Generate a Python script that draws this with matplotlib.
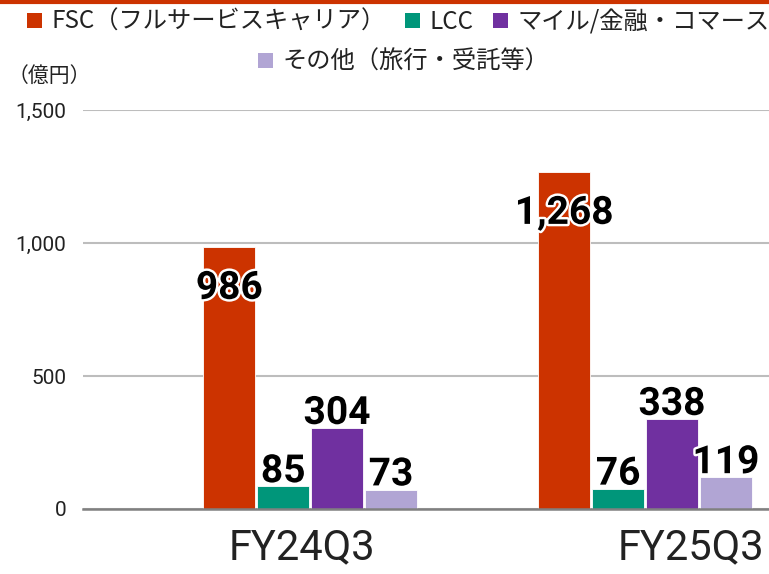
import numpy as np
import matplotlib.pyplot as plt
import matplotlib.patheffects as pe
from matplotlib.patches import Patch
from matplotlib.transforms import ScaledTranslation

plt.rcParams['font.family'] = ['Roboto', 'Noto Sans CJK JP', 'DejaVu Sans']

periods = ['FY24Q3', 'FY25Q3']
segments = ['FSC（フルサービスキャリア）', 'LCC', 'マイル/金融・コマース', 'その他（旅行・受託等）']
fsc = [986, 1268]
lcc = [85, 76]
mile = [304, 338]
other = [73, 119]
colors = ['#CC3300', '#00967A', '#7030A0', '#B1A5D4']

series = [fsc, lcc, mile, other]

fig = plt.figure(figsize=(7.69, 5.74), dpi=100)
ax = fig.add_axes([83 / 769, 65 / 574, 686 / 769, 399 / 574])

x = np.arange(len(periods))
step = 0.161
width = 0.155
offsets = (np.arange(4) - 1.5) * step

outline = [pe.withStroke(linewidth=3.5, foreground='white')]
for i, vals in enumerate(series):
    ax.bar(x + offsets[i], vals, width, color=colors[i], edgecolor='white',
           linewidth=0.6, zorder=3)
    for xi, v in zip(x + offsets[i], vals):
        if i == 0:
            ax.annotate(f'{v:,}', (xi, v), xytext=(0, -30), textcoords='offset points',
                        ha='center', va='center', fontsize=28, fontweight='bold',
                        color='black', path_effects=outline, zorder=5)
        else:
            ax.annotate(f'{v:,}', (xi, v), xytext=(0, 3), textcoords='offset points',
                        ha='center', va='baseline', fontsize=28, fontweight='bold',
                        color='black', path_effects=outline, zorder=5)

ax.set_ylim(0, 1500)
ax.set_xlim(-0.678, 1.370)
ax.set_yticks([0, 500, 1000, 1500])
ax.set_yticklabels([f'{t:,}' for t in [0, 500, 1000, 1500]])
ax.yaxis.grid(True, color='#BDBDBD', linewidth=1.5, zorder=0)
ax.set_axisbelow(True)
for s in ['top', 'right', 'left']:
    ax.spines[s].set_visible(False)
ax.spines['bottom'].set_color('#808080')
ax.spines['bottom'].set_linewidth(1.8)
ax.spines['bottom'].set_zorder(4)
ax.tick_params(axis='y', length=0, labelsize=15, pad=12, labelcolor='#222222')
ax.tick_params(axis='x', length=0, labelsize=30, pad=13, labelcolor='#222222')
ax.set_xticks(x)
ax.set_xticklabels(periods, fontweight='normal')
for lab, dx in zip(ax.get_xticklabels(), [-8, 46]):
    lab.set_transform(lab.get_transform() + ScaledTranslation(dx / 100, 0, fig.dpi_scale_trans))

fig.text(8 / 769, 1 - 76 / 574, '（億円）', fontsize=15, va='center', ha='left',
         family=['Noto Sans CJK JP'], color='#222222')

handles = [Patch(facecolor=c) for c in colors]
leg1 = fig.legend(handles[:3], segments[:3], loc='center', ncol=3,
                  bbox_to_anchor=(0.518, 1 - 22 / 574), frameon=False,
                  prop={'family': ['Noto Sans CJK JP'], 'size': 17.5},
                  handlelength=0.6, handleheight=0.6, handletextpad=0.4,
                  columnspacing=0.8, borderpad=0)
leg2 = fig.legend(handles[3:], segments[3:], loc='center', ncol=1,
                  bbox_to_anchor=(0.525, 1 - 62 / 574), frameon=False,
                  prop={'family': ['Noto Sans CJK JP'], 'size': 17.5},
                  handlelength=0.6, handleheight=0.6, handletextpad=0.4,
                  borderpad=0)
for leg in (leg1, leg2):
    for t in leg.get_texts():
        t.set_color('#222222')

fig.add_artist(plt.Line2D([0, 1], [1 - 1.5 / 574, 1 - 1.5 / 574], color='#CC3300',
                          linewidth=3, transform=fig.transFigure))

fig.savefig('out.png', dpi=100)
